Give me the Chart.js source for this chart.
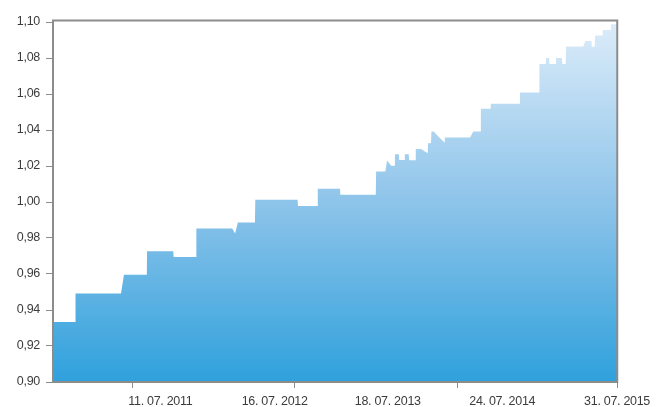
<!DOCTYPE html>
<html>
<head>
<meta charset="utf-8">
<script src="https://cdn.jsdelivr.net/npm/chart.js@4/dist/chart.umd.min.js"></script>
<style>
    html, body { margin: 0; padding: 0; background: #ffffff; }
    #wrap { width: 656px; height: 407px; }
</style>
</head>
<body>
<div id="wrap"><canvas id="nav-chart" width="656" height="407"></canvas></div>
<script>
// ── Data ──

// breakpoints of the NAV curve, x in decimal years
const NAV_YEARS = [
    2010.570, 2010.766, 2010.770, 2011.174, 2011.200, 2011.403, 2011.405, 2011.638, 2011.641, 2011.841,
    2011.843, 2012.161, 2012.187, 2012.211, 2012.363, 2012.366, 2012.742, 2012.745, 2012.919, 2012.921,
    2013.119, 2013.121, 2013.436, 2013.439, 2013.521, 2013.536, 2013.573, 2013.603, 2013.606, 2013.641,
    2013.644, 2013.692, 2013.694, 2013.729, 2013.732, 2013.789, 2013.791, 2013.838, 2013.897, 2013.900,
    2013.926, 2013.930, 2013.950, 2013.994, 2014.044, 2014.049, 2014.273, 2014.302, 2014.367, 2014.369,
    2014.455, 2014.457, 2014.714, 2014.716, 2014.887, 2014.889, 2014.946, 2014.948, 2014.975, 2014.977,
    2015.034, 2015.036, 2015.089, 2015.092, 2015.122, 2015.125, 2015.278, 2015.298, 2015.351, 2015.354,
    2015.380, 2015.383, 2015.448, 2015.451, 2015.521, 2015.524, 2015.580
];
const NAV_VALUES = [
    0.9333, 0.9333, 0.9491, 0.9491, 0.9596, 0.9596, 0.9727, 0.9727, 0.9694, 0.9694,
    0.9853, 0.9853, 0.9825, 0.9886, 0.9886, 1.0013, 1.0013, 0.9978, 0.9978, 1.0073,
    1.0073, 1.0040, 1.0040, 1.0169, 1.0169, 1.0230, 1.0202, 1.0202, 1.0265, 1.0265,
    1.0233, 1.0233, 1.0265, 1.0265, 1.0232, 1.0232, 1.0294, 1.0294, 1.0271, 1.0326,
    1.0326, 1.0391, 1.0391, 1.0363, 1.0332, 1.0359, 1.0359, 1.0391, 1.0391, 1.0518,
    1.0518, 1.0546, 1.0546, 1.0609, 1.0609, 1.0767, 1.0767, 1.0800, 1.0800, 1.0767,
    1.0767, 1.0800, 1.0800, 1.0767, 1.0767, 1.0864, 1.0864, 1.0895, 1.0895, 1.0862,
    1.0862, 1.0925, 1.0925, 1.0956, 1.0956, 1.0987, 1.0987
];

const X_START = 2010.57;
const X_END = 2015.58;

const X_LABEL_DATES = ["2011-07-11", "2012-07-16", "2013-07-18", "2014-07-24", "2015-07-31"];
const X_LABELS = ["11. 07. 2011", "16. 07. 2012", "18. 07. 2013", "24. 07. 2014", "31. 07. 2015"];
const X_TICK_MARKS = [2011.279, 2012.716, 2014.161, 2015.58];

const Y_MIN = 0.90;
const Y_MAX = 1.10;
const Y_STEP = 0.02;

const AXIS_GRAY = "#8c8c8c";
const TEXT_COLOR = "#3c3c3c";
const FONT_FAMILY = "'Liberation Sans Narrow', 'Liberation Sans', Arial, sans-serif";

// ── Helpers ──

function decimalYear(s) {
    const [y, m, d] = s.split("-").map(Number);
    const start = Date.UTC(y, 0, 1);
    const days = (Date.UTC(y + 1, 0, 1) - start) / 86400000;
    return y + (Date.UTC(y, m - 1, d) - start) / 86400000 / days;
}

function fmtComma(v) {
    return v.toFixed(2).replace(".", ",");
}

// label ticks + tick-mark ticks on one axis
function buildXTicks() {
    const ticks = X_LABEL_DATES.map((d, i) => ({ value: decimalYear(d), text: X_LABELS[i], mark: false }));
    X_TICK_MARKS.forEach(v => {
        const hit = ticks.find(t => Math.abs(t.value - v) < 0.01);
        if (hit) hit.mark = true;
        else ticks.push({ value: v, text: "", mark: true });
    });
    return ticks.sort((a, b) => a.value - b.value);
}

const xTicks = buildXTicks();

function areaGradient(ctx) {
    const area = ctx.chart.chartArea;
    if (!area) return "#7dbce8";
    const g = ctx.chart.ctx.createLinearGradient(0, area.top, 0, area.bottom);
    g.addColorStop(0, "#dcecf9");
    g.addColorStop(0.5, "#8ec4ea");
    g.addColorStop(1, "#2fa1dc");
    return g;
}

// narrow the tick text a bit (reference uses a condensed face)
const tightTextPlugin = {
    id: "tightText",
    beforeLayout(chart) { chart.ctx.letterSpacing = "-0.3px"; },
    beforeDraw(chart) { chart.ctx.letterSpacing = "-0.3px"; },
};

// plot frame
const framePlugin = {
    id: "frame",
    afterDraw(chart) {
        const { ctx, chartArea: a } = chart;
        ctx.save();
        ctx.strokeStyle = AXIS_GRAY;
        ctx.lineWidth = 2;
        ctx.strokeRect(a.left, a.top - 1.5, a.right - a.left, a.bottom - a.top + 1.5);
        ctx.restore();
    }
};

// ── Chart ──

new Chart(document.getElementById("nav-chart"), {
    type: "line",
    data: {
        datasets: [{
            data: NAV_YEARS.map((x, i) => ({ x: x, y: NAV_VALUES[i] })),
            fill: "start",
            backgroundColor: areaGradient,
            borderWidth: 0,
            pointRadius: 0,
            tension: 0,
        }],
    },
    options: {
        responsive: false,
        animation: false,
        layout: { padding: { left: 0, top: 22, right: 35, bottom: 0 } },
        plugins: { legend: { display: false }, tooltip: { enabled: false } },
        scales: {
            x: {
                type: "linear",
                min: X_START,
                max: X_END,
                afterBuildTicks: scale => { scale.ticks = xTicks.map(t => ({ value: t.value })); },
                afterFit: scale => { scale.height = 25; },
                border: { display: false },
                grid: {
                    drawOnChartArea: false,
                    tickLength: 6,
                    tickColor: c => (c.index != null && xTicks[c.index] && xTicks[c.index].mark) ? AXIS_GRAY : "rgba(0,0,0,0)",
                },
                ticks: {
                    autoSkip: false,
                    maxRotation: 0,
                    padding: 6,
                    color: TEXT_COLOR,
                    font: { family: FONT_FAMILY, size: 12.5 },
                    callback: (v, i) => xTicks[i] ? xTicks[i].text : "",
                },
            },
            y: {
                min: Y_MIN,
                max: Y_MAX,
                afterFit: scale => { scale.width = 53; },
                border: { display: false },
                grid: { drawOnChartArea: false, tickLength: 7, tickColor: AXIS_GRAY },
                ticks: {
                    stepSize: Y_STEP,
                    padding: 6,
                    color: TEXT_COLOR,
                    font: { family: FONT_FAMILY, size: 12.5 },
                    callback: v => fmtComma(v),
                },
            },
        },
    },
    plugins: [tightTextPlugin, framePlugin],
});
</script>
</body>
</html>
